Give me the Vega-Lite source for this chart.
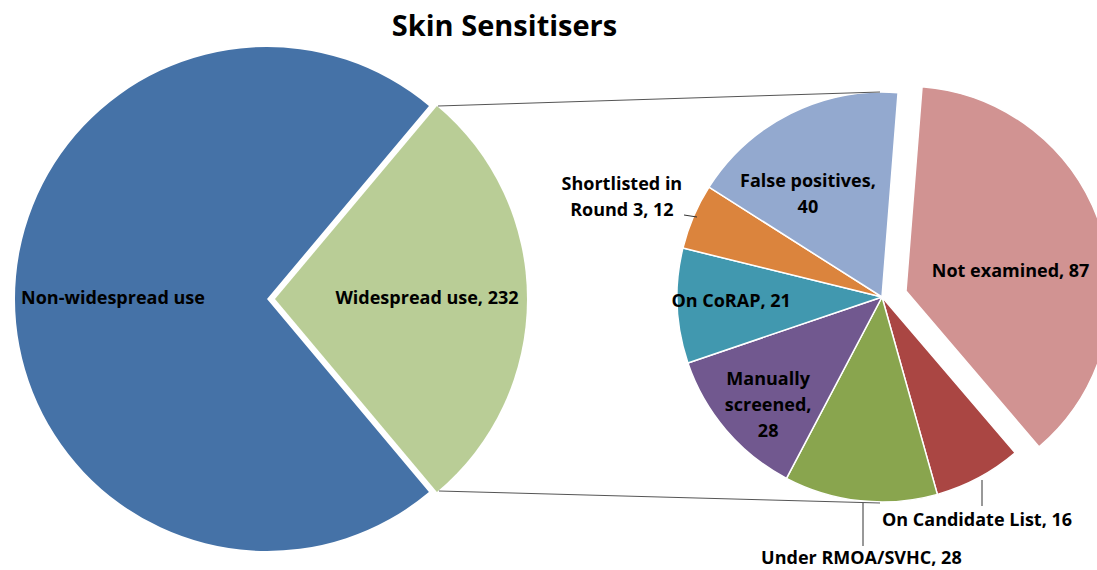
{
  "$schema": "https://vega.github.io/schema/vega-lite/v6.json",
  "width": 1097,
  "height": 570,
  "autosize": {"type": "none"},
  "padding": 0,
  "background": "white",
  "config": {
    "view": {"stroke": null},
    "text": {"font": "Open Sans", "fontWeight": "bold", "fontSize": 18, "lineBreak": "\n", "lineHeight": 26, "baseline": "middle", "align": "center", "color": "black"}
  },
  "title": {"text": "Skin Sensitisers", "anchor": "middle", "frame": "group", "dx": -44, "dy": 65, "baseline": "alphabetic", "fontSize": 29, "font": "Open Sans", "fontWeight": "bold", "color": "black", "offset": 0},
  "resolve": {"scale": {"theta": "independent"}},
  "layer": [
    {
      "data": {"values": [
        {"cat": "Widespread use", "n": 232, "o": 1, "label": "Widespread use, 232"},
        {"cat": "Non-widespread use", "n": 603, "o": 2, "label": "Non-widespread use"}
      ]},
      "encoding": {
        "theta": {"field": "n", "type": "quantitative", "stack": true, "scale": {"range": [0.698, 6.9812]}},
        "order": {"field": "o", "type": "quantitative"}
      },
      "layer": [
        {
          "mark": {"type": "arc", "x": 267, "y": 299, "outerRadius": 252},
          "encoding": {
            "color": {"field": "cat", "type": "nominal", "legend": null,
              "scale": {"domain": ["Non-widespread use", "Widespread use", "Not examined", "On Candidate List", "Under RMOA/SVHC", "Manually screened", "On CoRAP", "Shortlisted in Round 3", "False positives"],
                        "range": ["#4572A7", "#B9CD96", "#D19392", "#AA4643", "#89A54E", "#71588F", "#4198AF", "#DB843D", "#93A9CF"]}},
            "opacity": {"condition": {"test": "datum.cat === 'Widespread use'", "value": 0}, "value": 1}
          }
        },
        {
          "mark": {"type": "arc", "x": 267, "y": 299, "outerRadius": 252, "xOffset": 8},
          "encoding": {
            "color": {"field": "cat", "type": "nominal", "legend": null},
            "opacity": {"condition": {"test": "datum.cat === 'Widespread use'", "value": 1}, "value": 0}
          }
        },
        {
          "mark": {"type": "text", "x": 267, "y": 299, "radius": 154},
          "encoding": {
            "detail": {"field": "cat", "type": "nominal"},
            "text": {"condition": {"test": "datum.cat === 'Non-widespread use'", "field": "label", "type": "nominal"}, "value": ""}
          }
        },
        {
          "mark": {"type": "text", "x": 267, "y": 299, "radius": 152, "dx": 8},
          "encoding": {
            "detail": {"field": "cat", "type": "nominal"},
            "text": {"condition": {"test": "datum.cat === 'Widespread use'", "field": "label", "type": "nominal"}, "value": ""}
          }
        }
      ]
    },
    {
      "data": {"values": [
        {"cat": "Not examined", "n": 87, "o": 1, "label": "Not examined, 87"},
        {"cat": "On Candidate List", "n": 16, "o": 2, "label": "On Candidate List, 16"},
        {"cat": "Under RMOA/SVHC", "n": 28, "o": 3, "label": "Under RMOA/SVHC, 28"},
        {"cat": "Manually screened", "n": 28, "o": 4, "label": "Manually\nscreened,\n28"},
        {"cat": "On CoRAP", "n": 21, "o": 5, "label": "On CoRAP, 21"},
        {"cat": "Shortlisted in Round 3", "n": 12, "o": 6, "label": "Shortlisted in\nRound 3, 12"},
        {"cat": "False positives", "n": 40, "o": 7, "label": "False positives,\n40"}
      ]},
      "encoding": {
        "theta": {"field": "n", "type": "quantitative", "stack": true, "scale": {"range": [0.0785, 6.3617]}},
        "order": {"field": "o", "type": "quantitative"}
      },
      "layer": [
        {
          "mark": {"type": "arc", "x": 882, "y": 297, "outerRadius": 205, "stroke": "white", "strokeWidth": 1.5},
          "encoding": {
            "color": {"field": "cat", "type": "nominal", "legend": null},
            "opacity": {"condition": {"test": "datum.cat === 'Not examined'", "value": 0}, "value": 1}
          }
        },
        {
          "mark": {"type": "arc", "x": 882, "y": 297, "outerRadius": 205, "xOffset": 24, "yOffset": -6, "stroke": "white", "strokeWidth": 1.5},
          "encoding": {
            "color": {"field": "cat", "type": "nominal", "legend": null},
            "opacity": {"condition": {"test": "datum.cat === 'Not examined'", "value": 1}, "value": 0}
          }
        },
        {
          "mark": {"type": "text", "x": 882, "y": 297, "radius": 110, "dx": 24, "dy": 9},
          "encoding": {"detail": {"field": "cat", "type": "nominal"},
            "text": {"condition": {"test": "datum.cat === 'Not examined'", "field": "label", "type": "nominal"}, "value": ""}}
        },
        {
          "mark": {"type": "text", "x": 882, "y": 297, "radius": 240, "dx": -18, "dy": 12},
          "encoding": {"detail": {"field": "cat", "type": "nominal"},
            "text": {"condition": {"test": "datum.cat === 'On Candidate List'", "field": "label", "type": "nominal"}, "value": ""}}
        },
        {
          "mark": {"type": "text", "x": 882, "y": 297, "radius": 262, "dx": 7, "dy": 1},
          "encoding": {"detail": {"field": "cat", "type": "nominal"},
            "text": {"condition": {"test": "datum.cat === 'Under RMOA/SVHC'", "field": "label", "type": "nominal"}, "value": ""}}
        },
        {
          "mark": {"type": "text", "x": 882, "y": 297, "radius": 155, "dx": 4, "dy": -18},
          "encoding": {"detail": {"field": "cat", "type": "nominal"},
            "text": {"condition": {"test": "datum.cat === 'Manually screened'", "field": "label", "type": "nominal"}, "value": ""}}
        },
        {
          "mark": {"type": "text", "x": 882, "y": 297, "radius": 151, "dx": 0, "dy": -2},
          "encoding": {"detail": {"field": "cat", "type": "nominal"},
            "text": {"condition": {"test": "datum.cat === 'On CoRAP'", "field": "label", "type": "nominal"}, "value": ""}}
        },
        {
          "mark": {"type": "text", "x": 882, "y": 297, "radius": 260, "dx": -21, "dy": -10},
          "encoding": {"detail": {"field": "cat", "type": "nominal"},
            "text": {"condition": {"test": "datum.cat === 'Shortlisted in Round 3'", "field": "label", "type": "nominal"}, "value": ""}}
        },
        {
          "mark": {"type": "text", "x": 882, "y": 297, "radius": 130, "dx": -16, "dy": 1},
          "encoding": {"detail": {"field": "cat", "type": "nominal"},
            "text": {"condition": {"test": "datum.cat === 'False positives'", "field": "label", "type": "nominal"}, "value": ""}}
        }
      ]
    },
    {"data": {"values": [{"k": 1}]}, "mark": {"type": "rule", "color": "#555555", "strokeWidth": 1},
      "encoding": {"x": {"value": 438}, "y": {"value": 106}, "x2": {"value": 880}, "y2": {"value": 92}}},
    {"data": {"values": [{"k": 1}]}, "mark": {"type": "rule", "color": "#555555", "strokeWidth": 1},
      "encoding": {"x": {"value": 439}, "y": {"value": 491}, "x2": {"value": 880}, "y2": {"value": 503}}},
    {"data": {"values": [{"k": 1}]}, "mark": {"type": "rule", "color": "#333333", "strokeWidth": 1},
      "encoding": {"x": {"value": 684}, "y": {"value": 215}, "x2": {"value": 697}, "y2": {"value": 217}}},
    {"data": {"values": [{"k": 1}]}, "mark": {"type": "rule", "color": "#333333", "strokeWidth": 1},
      "encoding": {"x": {"value": 982}, "y": {"value": 480}, "x2": {"value": 982}, "y2": {"value": 506}}},
    {"data": {"values": [{"k": 1}]}, "mark": {"type": "rule", "color": "#333333", "strokeWidth": 1},
      "encoding": {"x": {"value": 863}, "y": {"value": 503}, "x2": {"value": 863}, "y2": {"value": 546}}}
  ]
}
